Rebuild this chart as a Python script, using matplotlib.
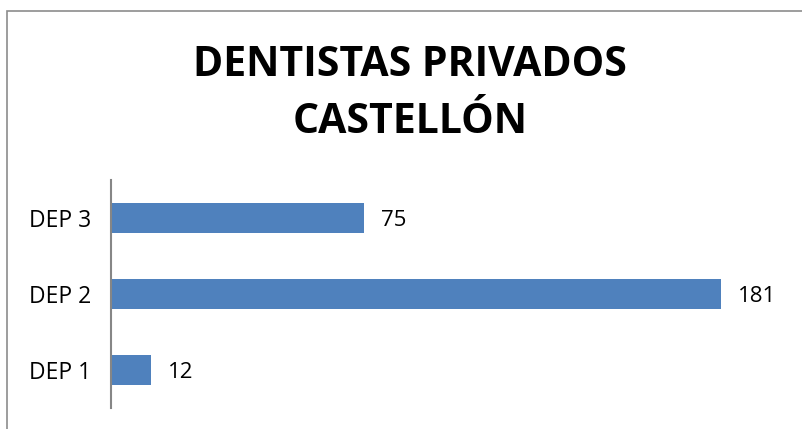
import matplotlib
matplotlib.use("Agg")
import matplotlib.pyplot as plt
from matplotlib.patches import Rectangle

categories = ["DEP 1", "DEP 2", "DEP 3"]
values = [12, 181, 75]
title = "DENTISTAS PRIVADOS\nCASTELLÓN"

W, H = 803, 429
fig = plt.figure(figsize=(W / 100, H / 100), dpi=100)
fig.patch.set_facecolor("white")

# outer frame (extends beyond right/bottom edges)
fig.patches.append(Rectangle((7.5 / W, -0.1), 1.2, (H - 10.5) / H + 0.1,
                             transform=fig.transFigure, fill=False,
                             edgecolor="#8c8c8c", linewidth=1.2))

ax_left, ax_right = 111, 785
ax_top, ax_bottom = 180, 408
ax = fig.add_axes([ax_left / W, 1 - ax_bottom / H,
                   (ax_right - ax_left) / W, (ax_bottom - ax_top) / H])
ypos = range(len(categories))
ax.barh(ypos, values, height=0.4, color="#4f81bd")
ax.set_xlim(0, 200)
ax.set_ylim(-0.5, 2.5)
ax.set_yticks(list(ypos))
ax.set_yticklabels(categories, fontsize=16.5, family="Open Sans")
ax.tick_params(axis="y", length=0, pad=14)
ax.set_xticks([])
for s in ["top", "right", "bottom"]:
    ax.spines[s].set_visible(False)
ax.spines["left"].set_color("#868686")
ax.spines["left"].set_linewidth(1.5)
for y, v in zip(ypos, values):
    ax.text(v + 5, y - 0.03, str(v), va="center", ha="left", fontsize=16,
            family="Open Sans")

fig.text(410 / W, 1 - 94 / H, title, ha="center", va="center",
         fontsize=29.5, fontweight="bold", family="Open Sans",
         linespacing=1.5)

fig.savefig("out.png", dpi=100)
